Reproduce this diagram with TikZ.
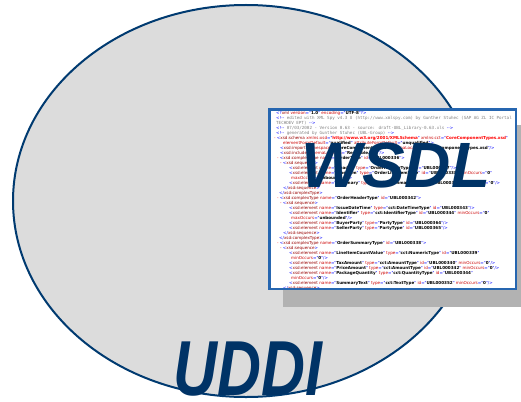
\documentclass[tikz,border=0pt]{standalone}
\usepackage{fontspec}
\usetikzlibrary{shapes.geometric}

\newfontfamily\titlefont{Liberation Sans}
\newfontfamily\xmlfont{DejaVu Sans}
\newfontfamily\xmlmono{DejaVu Sans Mono}

\definecolor{titleblue}{RGB}{0,51,102}
\definecolor{rimblue}{RGB}{0,58,112}
\definecolor{discgray}{RGB}{220,220,220}
\definecolor{boxblue}{RGB}{38,102,176}
\definecolor{shadowgray}{RGB}{178,178,178}
\definecolor{xblue}{RGB}{0,0,255}
\definecolor{xtag}{RGB}{153,0,0}
\definecolor{xattr}{RGB}{204,0,0}
\definecolor{xgray}{RGB}{128,128,128}

% xml markup
\newcommand\xopen[1]{\textcolor{xblue}{<}\textcolor{xtag}{#1}}
\newcommand\xclose[1]{\textcolor{xblue}{</}\textcolor{xtag}{#1}\textcolor{xblue}{>}}
\newcommand\xat[2]{ \textcolor{xattr}{#1}\textcolor{xblue}{="}\textbf{#2}\textcolor{xblue}{"}}
\newcommand\xns[2]{ \textcolor{xattr}{#1}\textcolor{xblue}{="}\textcolor{red}{\textbf{#2}}\textcolor{xblue}{"}}
\newcommand\xend{\textcolor{xblue}{ />}}
\newcommand\xgt{\textcolor{xblue}{>}}
\newcommand\xdash{\textcolor{red}{-} }
\newcommand\comopen{\textcolor{xblue}{<!-{}-}}
\newcommand\comclose{\textcolor{xblue}{-{}->}}
\newcommand\comtext[1]{\textcolor{xgray}{\xmlmono\fontsize{4.2}{5}\selectfont #1}}
\newcommand\ind[1]{\hspace*{#1pt}}

\tikzset{
  title/.style={font=\titlefont\bfseries\itshape, text=titleblue, inner sep=0pt},
  listing/.style={font=\xmlfont\fontsize{4.1}{5}\selectfont, align=left, inner sep=0pt, anchor=north west}
}

\begin{document}
\begin{tikzpicture}[x=1pt, y=-1pt]
        \useasboundingbox (0, 0) rectangle (521, 401);

        % Registry
        \node (registry) [ellipse, draw=rimblue, line width=2pt, fill=discgray,
          minimum width=466pt, minimum height=392pt] at (246, 201) {};

        % Document with shadow
        \begin{scope}
        \clip (0, 0) rectangle (521, 401);
        \node (shadow) [fill=shadowgray, minimum width=249pt, minimum height=182pt,
          inner sep=0pt] at (407.5, 216) {};
        \end{scope}
        \node (doc) [draw=boxblue, line width=2.5pt, fill=white, minimum width=246.5pt,
          minimum height=179.5pt, inner sep=0pt] at (392.5, 199) {};

        % Listing
        \begin{scope}
        \clip (270.5, 110.5) rectangle (514.5, 287.5);
        \node (xml) [listing] at (274, 111) {%
\ind{2}\textcolor{xblue}{<?}\textcolor{xtag}{xml}\xat{version}{1.0}\xat{encoding}{UTF-8}\textcolor{xblue}{ ?>}\\
\ind{2}\comopen\comtext{ edited with XML Spy v4.3 U (http://www.xmlspy.com) by Gunther Stuhec (SAP AG ZL IC Portal}\\
\ind{2}\comtext{TECHDEV EPT) }\comclose\\
\ind{2}\comopen\comtext{ 07/03/2002 - Version 0.63 - source: draft-UBL\_Library-0.63.xls }\comclose\\
\ind{2}\comopen\comtext{ generated by Gunther Stuhec (UBL-Group) }\comclose\\
\xdash\xopen{xsd:schema}\xns{xmlns:xsd}{http://www.w3.org/2001/XMLSchema}\xns{xmlns:cct}{CoreComponentTypes.xsd}\\
\ind{9}\textcolor{xattr}{elementFormDefault}\textcolor{xblue}{="}\textbf{qualified}\textcolor{xblue}{"}\xat{attributeFormDefault}{unqualified}\xgt\\
\ind{6}\xopen{xsd:import}\xat{namespace}{CoreComponentTypes}\xat{schemaLocation}{CoreComponentTypes.xsd}\xend\\
\ind{6}\xopen{xsd:include}\xat{schemaLocation}{Reusable.xsd}\xend\\
\ind{3}\xdash\xopen{xsd:complexType}\xat{name}{OrderType}\xat{id}{UBL000336}\xgt\\
\ind{6}\xdash\xopen{xsd:sequence}\xgt\\
\ind{15}\xopen{xsd:element}\xat{name}{Header}\xat{type}{OrderHeaderType}\xat{id}{UBL000337}\xend\\
\ind{15}\xopen{xsd:element}\xat{name}{LineItem}\xat{type}{OrderLineItemType}\xat{id}{UBL000338}\xat{minOccurs}{0}\\
\ind{17}\textcolor{xattr}{maxOccurs}\textcolor{xblue}{="}\textbf{unbounded}\textcolor{xblue}{"}\xend\\
\ind{15}\xopen{xsd:element}\xat{name}{Summary}\xat{type}{OrderSummaryType}\xat{id}{UBL000339}\xat{minOccurs}{0}\xend\\
\ind{9}\xclose{xsd:sequence}\\
\ind{5}\xclose{xsd:complexType}\\
\ind{3}\xdash\xopen{xsd:complexType}\xat{name}{OrderHeaderType}\xat{id}{UBL000342}\xgt\\
\ind{6}\xdash\xopen{xsd:sequence}\xgt\\
\ind{15}\xopen{xsd:element}\xat{name}{IssueDateTime}\xat{type}{cct:DateTimeType}\xat{id}{UBL000343}\xend\\
\ind{15}\xopen{xsd:element}\xat{name}{Identifier}\xat{type}{cct:IdentifierType}\xat{id}{UBL000344}\xat{minOccurs}{0}\\
\ind{17}\textcolor{xattr}{maxOccurs}\textcolor{xblue}{="}\textbf{unbounded}\textcolor{xblue}{"}\xend\\
\ind{15}\xopen{xsd:element}\xat{name}{BuyerParty}\xat{type}{PartyType}\xat{id}{UBL000364}\xend\\
\ind{15}\xopen{xsd:element}\xat{name}{SellerParty}\xat{type}{PartyType}\xat{id}{UBL000365}\xend\\
\ind{9}\xclose{xsd:sequence}\\
\ind{5}\xclose{xsd:complexType}\\
\ind{3}\xdash\xopen{xsd:complexType}\xat{name}{OrderSummaryType}\xat{id}{UBL000338}\xgt\\
\ind{6}\xdash\xopen{xsd:sequence}\xgt\\
\ind{15}\xopen{xsd:element}\xat{name}{LineItemCountValue}\xat{type}{cct:NumericType}\xat{id}{UBL000339}\\
\ind{17}\textcolor{xattr}{minOccurs}\textcolor{xblue}{="}\textbf{0}\textcolor{xblue}{"}\xend\\
\ind{15}\xopen{xsd:element}\xat{name}{TaxAmount}\xat{type}{cct:AmountType}\xat{id}{UBL000340}\xat{minOccurs}{0}\xend\\
\ind{15}\xopen{xsd:element}\xat{name}{PriceAmount}\xat{type}{cct:AmountType}\xat{id}{UBL000342}\xat{minOccurs}{0}\xend\\
\ind{15}\xopen{xsd:element}\xat{name}{PackageQuantity}\xat{type}{cct:QuantityType}\xat{id}{UBL000344}\\
\ind{17}\textcolor{xattr}{minOccurs}\textcolor{xblue}{="}\textbf{0}\textcolor{xblue}{"}\xend\\
\ind{15}\xopen{xsd:element}\xat{name}{SummaryText}\xat{type}{cct:TextType}\xat{id}{UBL000352}\xat{minOccurs}{0}\xend\\
\ind{9}\xclose{xsd:sequence}};
        \end{scope}

        % Titles
        \node (wsdl) [title, anchor=base, font=\titlefont\bfseries\itshape\fontsize{64}{70}\selectfont]
          at (396, 187) {WSDL};
        \node (uddi) [title, anchor=base, font=\titlefont\bfseries\itshape\fontsize{78}{80}\selectfont]
          at (248, 395) {\scalebox{0.78}[1]{UDDI}};
\end{tikzpicture}
\end{document}
